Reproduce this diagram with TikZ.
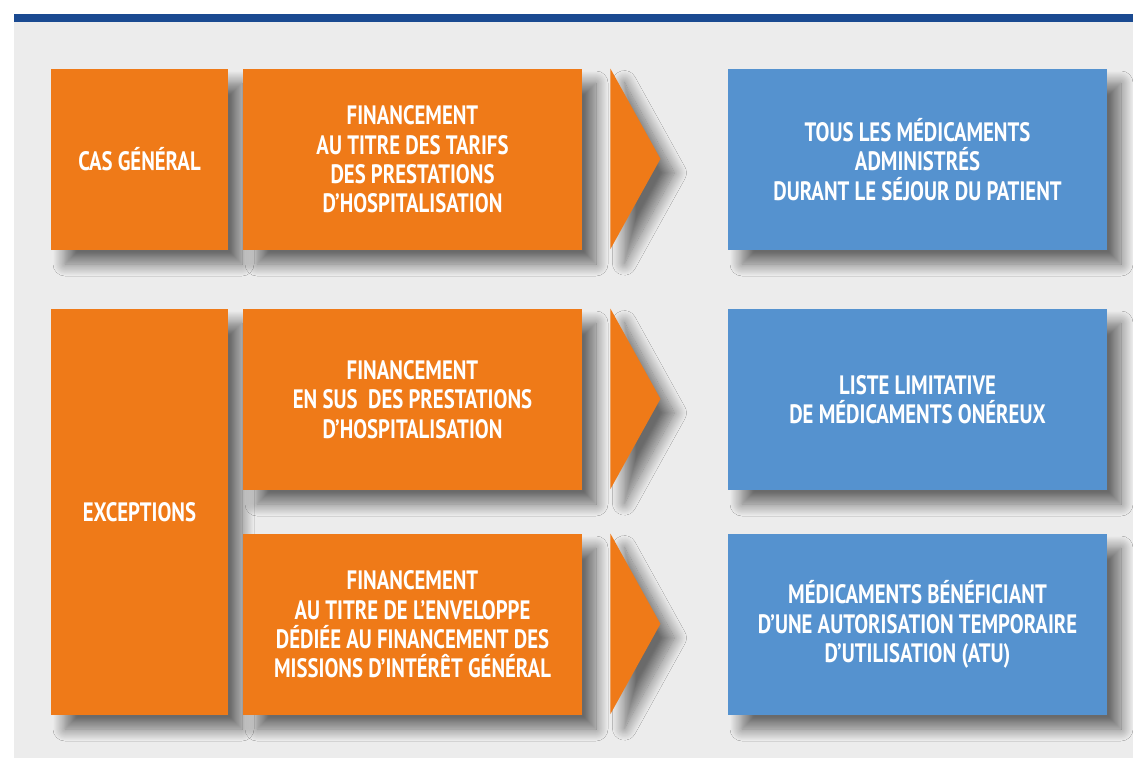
\documentclass[tikz,border=0pt]{standalone}
\usepackage{fontspec}
\newfontfamily\boxfont{PT Sans}[FakeStretch=0.78]
\usepackage{tikz}
\usetikzlibrary{positioning,shadows.blur}
\definecolor{barblue}{HTML}{1A4A91}
\definecolor{bggrey}{HTML}{ECECEC}
\definecolor{boxorange}{HTML}{EF7A18}
\definecolor{boxblue}{HTML}{5592CF}

\begin{document}
\begin{tikzpicture}[x=0.5pt,y=-0.5pt,
  every node/.style={inner sep=0pt,align=center,text=white,
    font=\boxfont\bfseries\fontsize{13.3}{14.65}\selectfont},
  sh/.style={blur shadow={shadow xshift=7pt,shadow yshift=-7pt,
    shadow blur radius=6pt,shadow blur steps=16,shadow opacity=55}},
  obox/.style={fill=boxorange,sh,minimum height=90.5pt},
  bbox/.style={fill=boxblue,sh,minimum width=189.5pt,minimum height=90.5pt}]
\useasboundingbox (0,0) rectangle (1133,759);
\fill [bggrey] (14,22) rectangle (1133,758);
\fill [barblue] (14,14) rectangle (1133,22);
% left column
\node [obox,minimum width=88.5pt] (cas) at (139.5,159.5) {CAS GÉNÉRAL};
\node [obox,minimum width=88.5pt,minimum height=203pt] (exc) at (139.5,512) {EXCEPTIONS};
% financement
\node [obox,minimum width=169.5pt] (fin1) at (412.5,159.5)
  {FINANCEMENT\\AU TITRE DES TARIFS\\DES PRESTATIONS\\D’HOSPITALISATION};
\node [obox,minimum width=169.5pt] (fin2) at (412.5,399.5)
  {FINANCEMENT\\EN SUS\ \ DES PRESTATIONS\\D’HOSPITALISATION};
\node [obox,minimum width=169.5pt] (fin3) at (412.5,624.5)
  {FINANCEMENT\\AU TITRE DE L’ENVELOPPE\\DÉDIÉE AU FINANCEMENT DES\\MISSIONS D’INTÉRÊT GÉNÉRAL};
% arrows
\foreach \f in {fin1,fin2,fin3}
  \fill [boxorange,sh] (\f.north east) ++(28,0) -- ++(50,90.25) -- ++(-50,90.25) -- cycle;
% medicaments
\node [bbox] (med1) at (917.5,159.5)
  {TOUS LES MÉDICAMENTS\\ADMINISTRÉS\\DURANT LE SÉJOUR DU PATIENT};
\node [bbox] (med2) at (917.5,399.5)
  {LISTE LIMITATIVE\\DE MÉDICAMENTS ONÉREUX};
\node [bbox] (med3) at (917.5,624.5)
  {MÉDICAMENTS BÉNÉFICIANT\\D’UNE AUTORISATION TEMPORAIRE\\D’UTILISATION (ATU)};
\end{tikzpicture}
\end{document}
